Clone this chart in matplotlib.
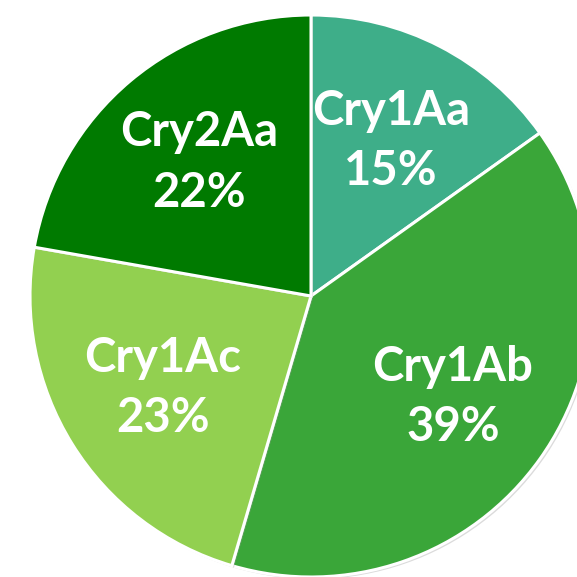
import matplotlib
matplotlib.use("Agg")
import matplotlib.pyplot as plt
import matplotlib.patheffects as pe

# slices, clockwise from the top
names = ["Cry1Aa", "Cry1Ab", "Cry1Ac", "Cry2Aa"]
shares = [15, 39, 23, 22]
colors = ["#3EAE89", "#3AA639", "#92D050", "#007A00"]

fig = plt.figure(figsize=(5.77, 5.77), dpi=100)
ax = fig.add_axes([0.052, 0.0, 0.974, 0.974])

labels = [f"{n}\n{v}%" for n, v in zip(names, shares)]
wedges, texts = ax.pie(shares, labels=labels, colors=colors,
                       startangle=90, counterclock=False,
                       labeldistance=0.62,
                       wedgeprops=dict(edgecolor="white", linewidth=2.2))

# soft grey halo round the pie
for w in wedges:
    w.set_path_effects([pe.SimplePatchShadow(offset=(1.5, -1.5), shadow_rgbFace="#999999", alpha=0.35),
                        pe.Normal()])

for t in texts:
    t.set_ha("center")
    t.set_va("center")
    t.set_color("white")
    t.set_fontfamily("Lato")
    t.set_fontweight("bold")
    t.set_fontsize(34)
    t.set_linespacing(1.45)

ax.set_xlim(-1, 1)
ax.set_ylim(-1, 1)
ax.set_aspect("equal")
ax.axis("off")

fig.savefig("out.png", dpi=100)
